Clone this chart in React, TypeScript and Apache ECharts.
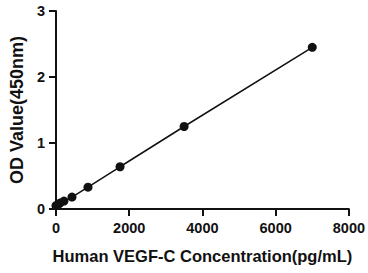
import React, { useEffect, useRef } from "react";
import * as echarts from "echarts";

const concentrations = [0, 54.7, 109.4, 218.75, 437.5, 875, 1750, 3500, 7000];
const odValues = [0.05, 0.07, 0.09, 0.12, 0.18, 0.33, 0.64, 1.25, 2.45];
const xTitle = "Human VEGF-C Concentration(pg/mL)";
const yTitle = "OD Value(450nm)";

export default function App() {
  const ref = useRef<HTMLDivElement>(null);
  useEffect(() => {
    const chart = echarts.init(ref.current!, null, { renderer: "svg" });
    const font = "Liberation Sans, Arial, sans-serif";
    chart.setOption({
      animation: false,
      grid: { left: 51, right: 19, top: 11, bottom: 64 },
      xAxis: {
        type: "value",
        min: 0,
        max: 8000,
        interval: 2000,
        name: xTitle,
        nameLocation: "middle",
        nameGap: 38,
        nameTextStyle: { fontFamily: font, fontWeight: "bold", fontSize: 16.5, color: "#111" },
        axisLine: { show: true, onZero: false, lineStyle: { color: "#111", width: 2 } },
        axisTick: { show: true, length: 7, lineStyle: { color: "#111", width: 2 } },
        axisLabel: {
          fontFamily: font,
          fontWeight: "bold",
          fontSize: 14.5,
          color: "#111",
          margin: 11,
          formatter: (v: number) => String(v),
        },
        splitLine: { show: false },
      },
      yAxis: {
        type: "value",
        min: 0,
        max: 3,
        interval: 1,
        name: yTitle,
        nameLocation: "middle",
        nameGap: 26,
        nameTextStyle: { fontFamily: font, fontWeight: "bold", fontSize: 18, color: "#111" },
        axisLine: { show: true, lineStyle: { color: "#111", width: 2 } },
        axisTick: { show: true, length: 7, lineStyle: { color: "#111", width: 2 } },
        axisLabel: {
          fontFamily: font,
          fontWeight: "bold",
          fontSize: 14.5,
          color: "#111",
          margin: 11,
          formatter: (v: number) => String(v),
        },
        splitLine: { show: false },
      },
      series: [
        {
          type: "line",
          data: concentrations.map((c, i) => [c, odValues[i]]),
          symbol: "circle",
          symbolSize: 9,
          itemStyle: { color: "#111" },
          lineStyle: { color: "#111", width: 1.5 },
        },
      ],
    });
    return () => chart.dispose();
  }, []);
  return <div ref={ref} style={{ width: 368, height: 273, position: "absolute", left: 0, top: 0 }} />;
}
